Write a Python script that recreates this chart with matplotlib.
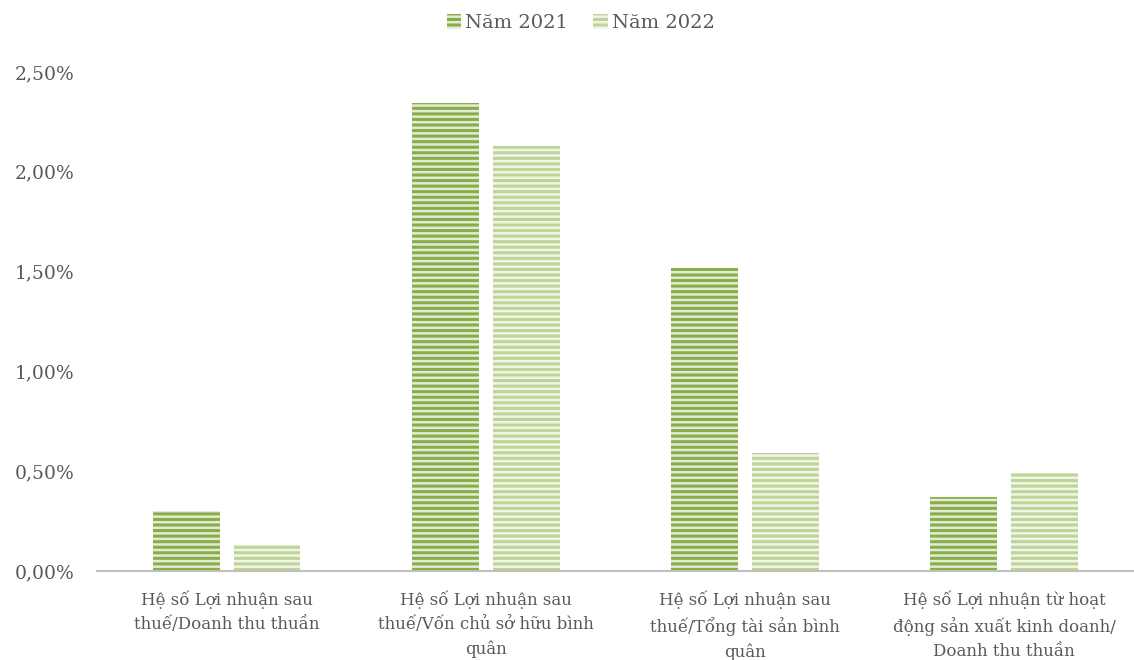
import numpy as np
import matplotlib.pyplot as plt
from matplotlib.ticker import FuncFormatter

plt.rcParams['font.family'] = ['DejaVu Serif']
plt.rcParams['hatch.linewidth'] = 2.2

categories = ['Hệ số Lợi nhuận sau\nthuế/Doanh thu thuần',
              'Hệ số Lợi nhuận sau\nthuế/Vốn chủ sở hữu bình\nquân',
              'Hệ số Lợi nhuận sau\nthuế/Tổng tài sản bình\nquân',
              'Hệ số Lợi nhuận từ hoạt\nđộng sản xuất kinh doanh/\nDoanh thu thuần']
y2021 = [0.30, 2.345, 1.52, 0.37]
y2022 = [0.13, 2.13, 0.59, 0.49]
series = ['Năm 2021', 'Năm 2022']

fig = plt.figure(figsize=(11.34, 6.6), dpi=100)
ax = fig.add_axes([0.0855, 0.1348, 0.9145, 0.7561])

x = np.arange(len(categories))
w = 0.258
gap = 0.054
ax.bar(x - (w + gap) / 2, y2021, w, color='#e2ecd2', edgecolor='#8aad4c',
       hatch='---', linewidth=0, label=series[0])
ax.bar(x + (w + gap) / 2, y2022, w, color='#f0f5e8', edgecolor='#bdd597',
       hatch='---', linewidth=0, label=series[1])

ax.set_xlim(-0.5, 3.5)
ax.set_ylim(0, 2.5)
ax.set_yticks(np.arange(0, 2.51, 0.5))
ax.yaxis.set_major_formatter(FuncFormatter(lambda v, p: f'{v:.2f}%'.replace('.', ',')))
ax.set_xticks(x)
ax.set_xticklabels(categories, fontsize=12, color='#595959', linespacing=1.55)
ax.tick_params(axis='y', labelsize=13.5, labelcolor='#595959', length=0, pad=16)
ax.tick_params(axis='x', length=0, pad=14)
for s in ['top', 'right', 'left']:
    ax.spines[s].set_visible(False)
ax.spines['bottom'].set_color('#bfbfbf')
ax.spines['bottom'].set_linewidth(1.5)

leg = fig.legend(loc='upper center', bbox_to_anchor=(0.512, 1.005), ncol=2, frameon=False,
                 fontsize=14, handlelength=0.75, handleheight=0.75, handletextpad=0.2,
                 columnspacing=1.3)
for t in leg.get_texts():
    t.set_color('#595959')

fig.savefig('out.png', dpi=100)
